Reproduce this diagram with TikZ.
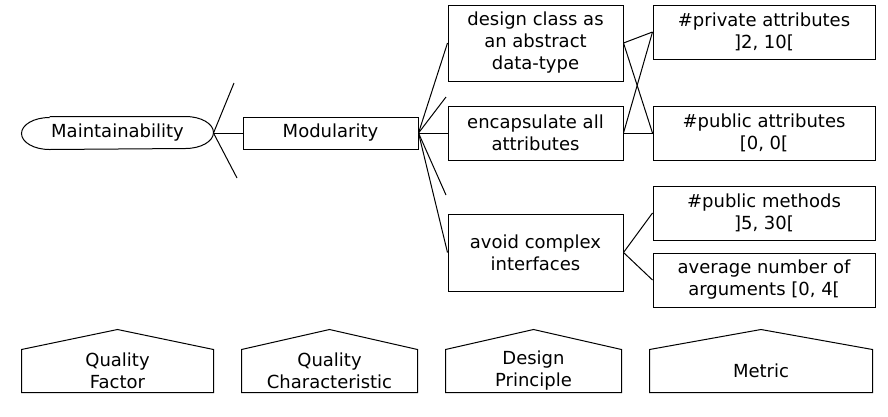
\documentclass[tikz,border=0pt]{standalone}
\usepackage{fontspec}
\setmainfont{DejaVu Sans}
\usetikzlibrary{positioning}

\begin{document}
\begin{tikzpicture}[
            x = 1pt, y = -1pt, % pixel grid, y down
            node distance = 29pt, % gap between columns
            line width = 1pt,
            font = \fontsize{18}{22}\selectfont
        ]

        \tikzstyle{box}=[
            draw = black,
            align = center,
            inner sep = 0pt,
            minimum width = 175pt
        ]
        \tikzstyle{metric}=[box, minimum width = 222pt, minimum height = 54pt]
        \tikzstyle{legend}=[align = center, inner sep = 0pt, minimum height = 42pt]

        \useasboundingbox (0,0) rectangle (888,416);

        \node[box, draw = none, minimum width = 191pt, minimum height = 32pt] (maint) at (117.5,133) {Maintainability};
        \node[box, minimum height = 32pt] (modul) [right=of maint] {Modularity};
        \node[box, minimum height = 54pt] (encap) [right=of modul] {encapsulate all\\attributes};
        \node[box, minimum height = 76pt] (design) [above=24pt of encap] {design class as\\an abstract\\data-type};
        \node[box, minimum height = 77pt] (avoid) [below=53pt of encap] {avoid complex\\interfaces};
        \node[metric] (pubattr) [right=of encap] {\#public attributes\\{[}0, 0{[}};
        \node[metric] (priv) [above=46pt of pubattr] {\#private attributes\\{]}2, 10{[}};
        \node[metric] (pubmeth) [below=25pt of pubattr] {\#public methods\\{]}5, 30{[}};
        \node[metric] (avgarg) [below=12pt of pubmeth] {average number of\\arguments {[}0, 4{[}};

        % outline of the quality factor
        \draw ([xshift=28pt]maint.north west) -- ([xshift=-28pt]maint.north east)
            arc[start angle=90, end angle=-90, x radius=28pt, y radius=16pt]
            -- ([xshift=28pt]maint.south west)
            arc[start angle=270, end angle=90, x radius=28pt, y radius=16pt];

        % loose branches
        \coordinate (m1) at (234,83);
        \coordinate (m2) at (237,178);
        \coordinate (d1) at (446,97);
        \coordinate (d2) at (446,195);

	\draw (maint.east) -- (m1);
	\draw (maint.east) -- (m2);
	\draw (maint.east) -- (modul.west);
	\draw (modul.east) -- (design.west);
	\draw (modul.east) -- (d1);
	\draw (modul.east) -- (encap.west);
	\draw (modul.east) -- (d2);
	\draw (modul.east) -- (avoid.west);
	\draw (design.east) -- (priv.west);
	\draw (design.east) -- (pubattr.west);
	\draw (encap.east) -- (priv.west);
	\draw (encap.east) -- (pubattr.west);
	\draw (avoid.east) -- (pubmeth.west);
	\draw (avoid.east) -- (avgarg.west);

        % legend
        \node[legend, minimum width = 191pt] (lfactor) at (117.5,371) {Quality\\Factor};
        \node[legend, minimum width = 175pt] (lchar) at (329.5,371) {Quality\\Characteristic};
        \node[legend, minimum width = 175pt] (lprinc) at (533.5,371) {Design\\Principle};
        \node[legend, minimum width = 222pt] (lmetric) at (761,371) {Metric};

        \draw (lfactor.south west) -- (lfactor.north west) -- ([yshift=20pt]lfactor.north) -- (lfactor.north east) -- (lfactor.south east) -- cycle;
        \draw (lchar.south west) -- (lchar.north west) -- ([yshift=20pt]lchar.north) -- (lchar.north east) -- (lchar.south east) -- cycle;
        \draw (lprinc.south west) -- (lprinc.north west) -- ([yshift=20pt]lprinc.north) -- (lprinc.north east) -- (lprinc.south east) -- cycle;
        \draw (lmetric.south west) -- (lmetric.north west) -- ([yshift=20pt]lmetric.north) -- (lmetric.north east) -- (lmetric.south east) -- cycle;
    \end{tikzpicture}
\end{document}
